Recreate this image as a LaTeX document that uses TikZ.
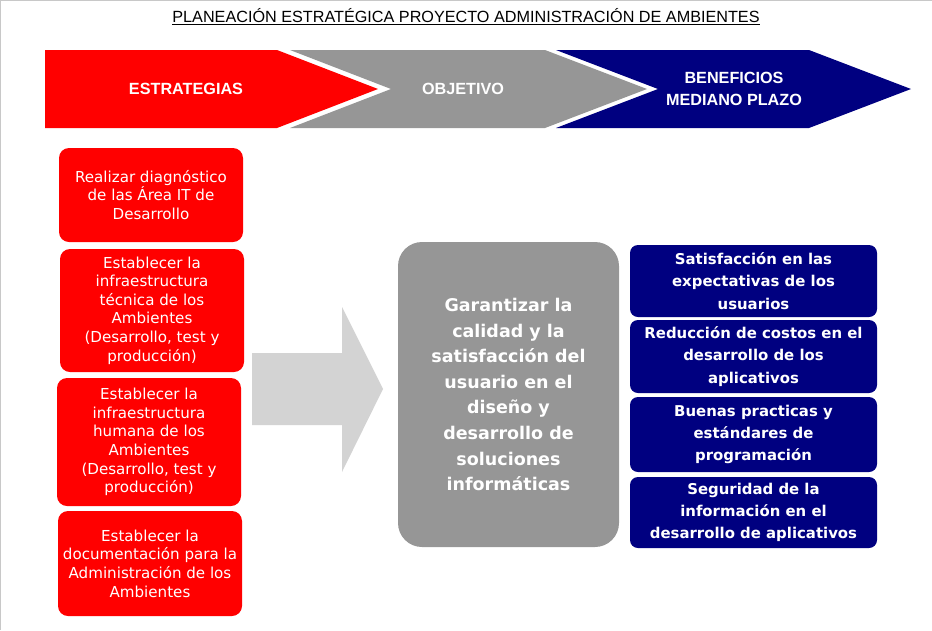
\documentclass[tikz,border=0pt]{standalone}
\usepackage{fontspec}
\setmainfont{Liberation Sans}
\newfontfamily\verd{DejaVu Sans}
\definecolor{redc}{HTML}{FF0000}
\definecolor{grayc}{HTML}{969696}
\definecolor{navyc}{HTML}{000080}
\definecolor{arrowc}{HTML}{D3D3D3}
\definecolor{framec}{HTML}{C8C8C8}
\begin{document}
\begin{tikzpicture}[x=1pt,y=-1pt,
  stratbox/.style={fill=redc, rounded corners=10pt, text=white, align=center,
    font=\verd\fontsize{15.1}{18.6}\selectfont, minimum width=184pt, inner sep=0pt},
  benbox/.style={fill=navyc, rounded corners=8pt, text=white, align=center,
    font=\verd\bfseries\fontsize{14.9}{22.3}\selectfont, minimum width=247pt, inner sep=0pt},
  objbox/.style={fill=grayc, rounded corners=24pt, text=white, align=center,
    font=\verd\bfseries\fontsize{17.5}{25.6}\selectfont, minimum width=221pt, minimum height=305pt, inner sep=0pt},
  chevtext/.style={text=white, align=center, font=\bfseries\fontsize{16.2}{22}\selectfont, inner sep=0pt},
  titletext/.style={font=\fontsize{16.2}{18}\selectfont, inner sep=0pt}
]
\useasboundingbox (0,0) rectangle (932,630);
% frame edges
\draw[framec, line width=1pt] (0.5,630) -- (0.5,0.5) -- (932,0.5);

% title
\node[titletext] (title) at (466,17) {\underline{PLANEACIÓN ESTRATÉGICA PROYECTO ADMINISTRACIÓN DE AMBIENTES}};

% chevrons
\fill[redc] (45,50) -- (277,50) -- (378,89) -- (277,128) -- (45,128) -- cycle;
\fill[grayc] (290,50) -- (545,50) -- (647,89) -- (545,128) -- (290,128) -- (391,89) -- cycle;
\fill[navyc] (556,50) -- (809,50) -- (911,89) -- (809,128) -- (556,128) -- (658,89) -- cycle;
\node[chevtext] (estr) at (186,89) {ESTRATEGIAS};
\node[chevtext] (obj) at (463,89) {OBJETIVO};
\node[chevtext] (ben) at (734,89) {BENEFICIOS\\MEDIANO PLAZO};

% big arrow
\fill[arrowc] (252,353) -- (342,353) -- (342,307) -- (383,389) -- (342,472) -- (342,425) -- (252,425) -- cycle;

% strategies
\node[stratbox, minimum height=94pt] (s1) at (151,195) {Realizar diagnóstico\\de las Área IT de\\Desarrollo};
\node[stratbox, minimum height=123pt] (s2) at (152,310.5) {Establecer la\\infraestructura\\técnica de los\\Ambientes\\(Desarrollo, test y\\producción)};
\node[stratbox, minimum height=128pt] (s3) at (149,442) {Establecer la\\infraestructura\\humana de los\\Ambientes\\(Desarrollo, test y\\producción)};
\node[stratbox, minimum height=105pt] (s4) at (150,563.5) {Establecer la\\documentación para la\\Administración de los\\Ambientes};

% objective
\node[objbox] (o1) at (508.5,394.5) {Garantizar la\\calidad y la\\satisfacción del\\usuario en el\\diseño y\\desarrollo de\\soluciones\\informáticas};

% benefits
\node[benbox, minimum height=72pt] (b1) at (753.5,281) {Satisfacción en las\\expectativas de los\\usuarios};
\node[benbox, minimum height=73pt] (b2) at (753.5,356.5) {Reducción de costos en el\\desarrollo de los\\aplicativos};
\node[benbox, minimum height=75pt] (b3) at (753.5,434.5) {Buenas practicas y\\estándares de\\programación};
\node[benbox, minimum height=71pt] (b4) at (753.5,512.5) {Seguridad de la\\información en el\\desarrollo de aplicativos};
\end{tikzpicture}
\end{document}
